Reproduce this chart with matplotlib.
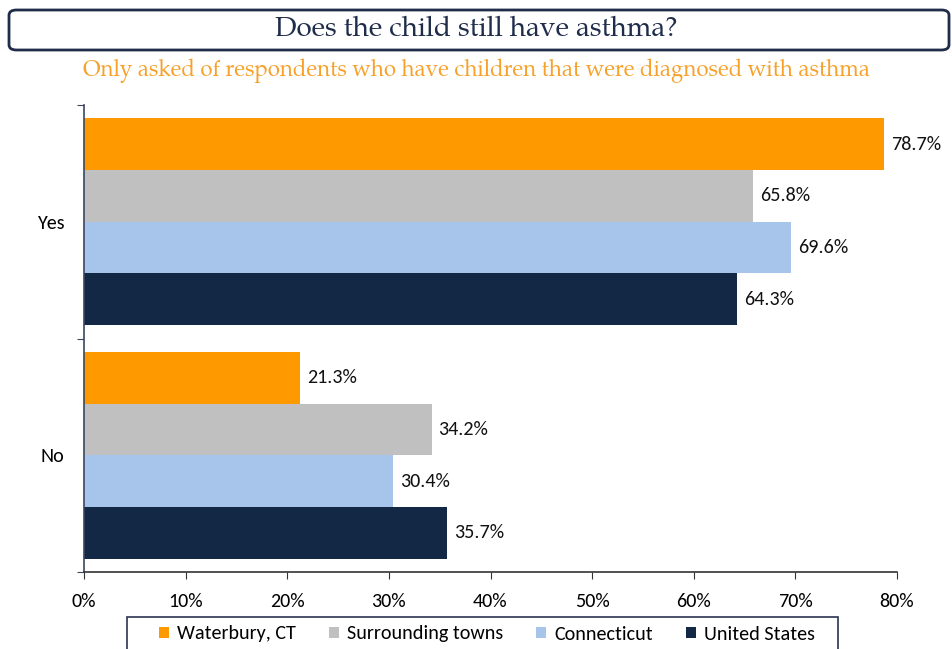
import matplotlib
matplotlib.use("Agg")
import matplotlib.pyplot as plt
from matplotlib.patches import FancyBboxPatch, Rectangle
import numpy as np

categories = ["Yes", "No"]
series_names = ["Waterbury, CT", "Surrounding towns", "Connecticut", "United States"]
waterbury = [78.7, 21.3]
surrounding = [65.8, 34.2]
connecticut = [69.6, 30.4]
united_states = [64.3, 35.7]
x_ticks = [0, 10, 20, 30, 40, 50, 60, 70, 80]
colors = ["#FF9900", "#C0C0C0", "#A7C5EB", "#132845"]

title = "Does the child still have asthma?"
subtitle = "Only asked of respondents who have children that were diagnosed with asthma"

W, H = 953, 649
fig = plt.figure(figsize=(W / 100, H / 100), dpi=100)

sans = ["Carlito", "DejaVu Sans"]
serif = ["TeX Gyre Pagella", "DejaVu Serif"]

# Title box
box = FancyBboxPatch((9 / W, 1 - 50 / H), (949 - 9) / W, (50 - 10) / H,
                     boxstyle="round,pad=0,rounding_size=0.008",
                     transform=fig.transFigure, facecolor="white",
                     edgecolor="#1F2D4B", linewidth=2)
fig.patches.append(box)
fig.text(0.5, 1 - 30 / H, title, ha="center", va="center", fontsize=20,
         family=serif, color="#1F2D4B")
fig.text(0.5, 1 - 71 / H, subtitle, ha="center", va="center", fontsize=16,
         family=serif, color="#F7A12A")

ax = fig.add_axes([84 / W, 1 - 572 / H, (897 - 84) / W, (572 - 105) / H])

series = [waterbury, surrounding, connecticut, united_states]
bar_h = 0.2216
centers = np.arange(len(categories)) + 0.5
for i, (vals, col) in enumerate(zip(series, colors)):
    ypos = centers - 2 * bar_h + (i + 0.5) * bar_h
    ax.barh(ypos, vals, height=bar_h, color=col, label=series_names[i])
    for y, v in zip(ypos, vals):
        ax.annotate(f"{v:.1f}%", (v, y), xytext=(5, 0), textcoords="offset points",
                    va="center", ha="left", fontsize=14.5, family=sans,
                    color="#111111")

ax.set_xlim(0, 80)
ax.set_ylim(2, 0)
ax.set_xticks(x_ticks)
ax.set_xticklabels([f"{t}%" for t in x_ticks], family=sans, fontsize=14.5)
ax.set_yticks([0, 1, 2])
ax.set_yticklabels([])
ax.set_yticks(centers, minor=True)
ax.set_yticklabels(categories, minor=True, family=sans, fontsize=14.5)
ax.tick_params(axis="y", which="minor", length=0, pad=14)
ax.tick_params(axis="y", which="major", length=5, color="#3A4660")
ax.tick_params(axis="x", length=5, color="#333333", pad=10)
for s in ["top", "right"]:
    ax.spines[s].set_visible(False)
ax.spines["left"].set_color("#3A4660")
ax.spines["bottom"].set_color("#333333")
for s in ["left", "bottom"]:
    ax.spines[s].set_linewidth(1.2)

# Legend frame, running off the bottom edge of the figure
frame = Rectangle((127 / W, -0.02), (838 - 127) / W, 0.02 + (649 - 617) / H,
                  transform=fig.transFigure, facecolor="white",
                  edgecolor="#2A3550", linewidth=1.2)
fig.patches.append(frame)

leg = fig.legend(loc="center", bbox_to_anchor=(487 / W, 1 - 634 / H),
                 borderaxespad=0, ncol=4, frameon=False,
                 prop={"family": sans, "size": 14.5},
                 handlelength=0.5, handleheight=0.5, handletextpad=0.4,
                 columnspacing=1.65, borderpad=0.0)

fig.savefig("out.png", dpi=100)
